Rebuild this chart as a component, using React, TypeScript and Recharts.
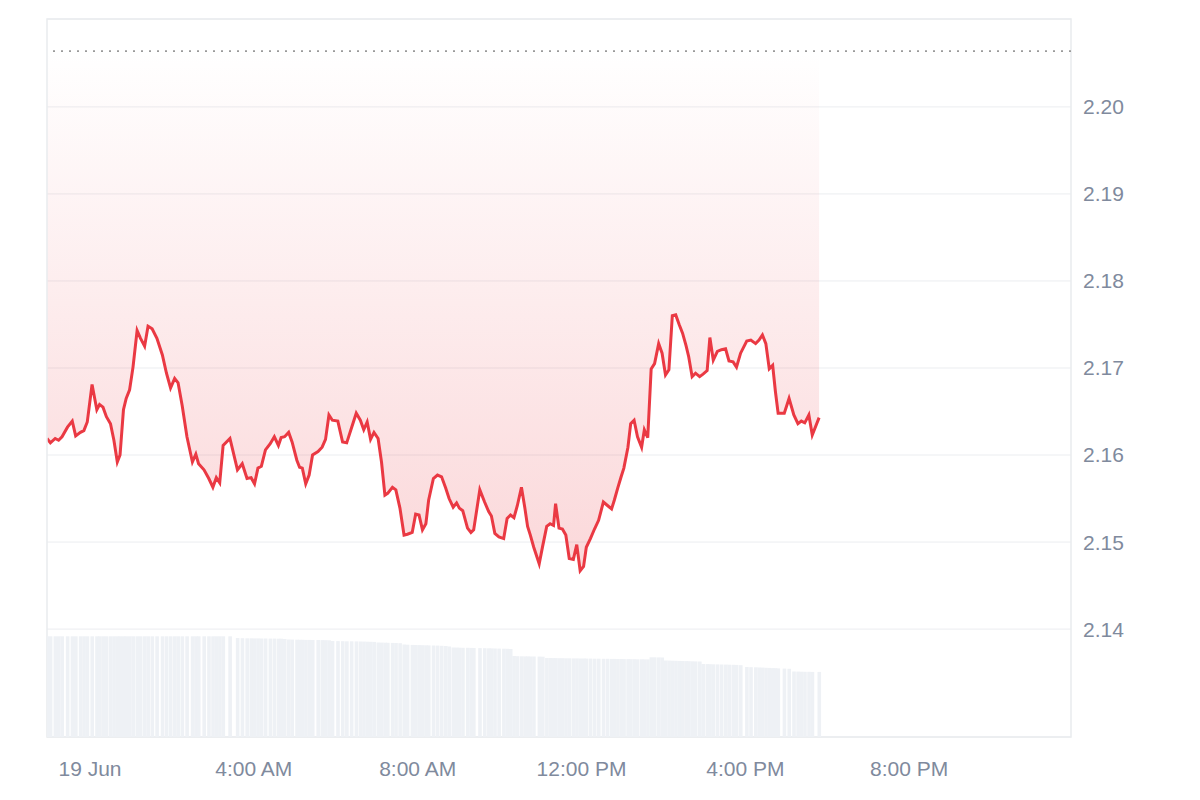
import {
  Area,
  Bar,
  CartesianGrid,
  ComposedChart,
  ReferenceArea,
  ReferenceLine,
  XAxis,
  YAxis
} from "recharts";

// minutes from 00:00 on 19 Jun
const times = [
  -63, -58, -51, -46, -41, -33, -26, -21, -14, -9,
  -4, 3, 10, 14, 19, 24, 30, 35, 40, 44,
  49, 53, 58, 63, 69, 74, 80, 85, 91, 98,
  106, 112, 118, 124, 129, 135, 142, 150, 155, 159,
  167, 174, 180, 185, 190, 195, 205, 216, 223, 230,
  236, 241, 246, 251, 257, 264, 270, 276, 280, 285,
  291, 296, 303, 307, 311, 316, 321, 326, 334, 340,
  345, 350, 355, 363, 370, 376, 383, 390, 396, 401,
  406, 411, 416, 422, 427, 432, 436, 443, 448, 454,
  460, 465, 472, 477, 482, 487, 492, 496, 503, 509,
  515, 521, 526, 532, 537, 541, 546, 553, 558, 562,
  571, 578, 584, 588, 593, 599, 606, 611, 616, 621,
  626, 632, 637, 641, 645, 650, 658, 663, 669, 674,
  679, 682, 687, 692, 697, 702, 708, 713, 718, 723,
  727, 733, 739, 745, 752, 758, 764, 768, 773, 778,
  782, 788, 792, 797, 802, 808, 812, 817, 822, 827,
  833, 838, 843, 848, 853, 858, 863, 868, 873, 877,
  882, 887, 893, 898, 904, 908, 913, 919, 925, 931,
  936, 942, 947, 953, 962, 968, 975, 980, 985, 990,
  995, 1000, 1004, 1008, 1017, 1024, 1031, 1037, 1042, 1047,
  1053, 1058, 1068
];

const prices = [
  2.1619, 2.1614, 2.1619, 2.1617, 2.1621, 2.1632, 2.1639, 2.1622, 2.1626, 2.1628,
  2.1638, 2.1681, 2.1652, 2.1658, 2.1655, 2.1644, 2.1636, 2.1617, 2.1592, 2.16,
  2.1652, 2.1665, 2.1675, 2.1701, 2.1743, 2.1734, 2.1725, 2.1748, 2.1745, 2.1734,
  2.1715, 2.1694, 2.1677, 2.1688, 2.1683, 2.1657, 2.1621, 2.1592, 2.1601, 2.159,
  2.1583, 2.1573, 2.1563, 2.1574, 2.1568, 2.1611, 2.1619, 2.1583, 2.159, 2.1573,
  2.1574, 2.1567, 2.1585, 2.1587, 2.1606, 2.1613, 2.1621, 2.1611, 2.162, 2.1621,
  2.1626, 2.1615, 2.1594, 2.1586, 2.1585, 2.1567, 2.1577, 2.16, 2.1604, 2.1609,
  2.1618, 2.1646, 2.164, 2.1639, 2.1615, 2.1614, 2.1631, 2.1648, 2.164, 2.1629,
  2.1638, 2.1618, 2.1626, 2.1619, 2.1592, 2.1554, 2.1556, 2.1563, 2.156, 2.1539,
  2.1508, 2.1509, 2.1511, 2.1532, 2.1531, 2.1514, 2.1521, 2.1548, 2.1573, 2.1577,
  2.1575, 2.1562, 2.155, 2.154, 2.1545, 2.1539, 2.1536, 2.1516, 2.1511, 2.1514,
  2.156, 2.1546, 2.1535, 2.153, 2.151, 2.1506, 2.1504, 2.1527, 2.1531, 2.1528,
  2.1542, 2.1563, 2.1539, 2.1518, 2.1508, 2.1494, 2.1475, 2.1495, 2.1518, 2.1521,
  2.1519, 2.1544, 2.1516, 2.1515, 2.1508, 2.1481, 2.148, 2.1497, 2.1467, 2.1472,
  2.1494, 2.1504, 2.1515, 2.1525, 2.1546, 2.1542, 2.1538, 2.1548, 2.1562, 2.1575,
  2.1585, 2.1609, 2.1636, 2.164, 2.1621, 2.1609, 2.1629, 2.162, 2.1699, 2.1705,
  2.1728, 2.1717, 2.1692, 2.1698, 2.176, 2.1761, 2.175, 2.174, 2.1726, 2.1713,
  2.169, 2.1694, 2.169, 2.1693, 2.1697, 2.1735, 2.1709, 2.1719, 2.1721, 2.1722,
  2.1708, 2.1707, 2.1701, 2.1717, 2.1731, 2.1732, 2.1728, 2.1732, 2.1738, 2.1728,
  2.1699, 2.1703, 2.1673, 2.1648, 2.1648, 2.1665, 2.1646, 2.1636, 2.1639, 2.1637,
  2.1646, 2.1623, 2.1643
];

// volume, millions
const volumes = [
  1007, 1007, 1007, 1007, 1007, 1007, 1007, 1007, 1007, 1007,
  1007, 1007, 1007, 1007, 1007, 1007, 1007, 1007, 1007, 1007,
  1007, 1007, 1007, 1007, 1007, 1007, 1007, 1007, 1007, 1007,
  1007, 1007, 1007, 1007, 1007, 1007, 1007, 1007, 1007, 1007,
  1007, 1007, 1007, 1007, 1007, 1007, 1007, 990, 988, 987,
  987, 986, 986, 985, 985, 984, 984, 983, 983, 980,
  975, 974, 973, 972, 972, 971, 971, 970, 970, 969,
  968, 967, 960, 959, 958, 957, 957, 956, 955, 954,
  953, 952, 951, 945, 944, 943, 942, 941, 940, 938,
  925, 923, 921, 920, 919, 918, 917, 916, 915, 914,
  912, 910, 905, 895, 894, 893, 892, 892, 891, 890,
  889, 888, 887, 886, 885, 884, 883, 882, 880, 810,
  808, 807, 806, 806, 805, 805, 804, 803, 790, 790,
  789, 789, 788, 788, 787, 787, 786, 786, 785, 785,
  784, 784, 783, 783, 782, 782, 781, 781, 780, 780,
  779, 779, 778, 778, 777, 777, 776, 776, 797, 797,
  796, 795, 765, 764, 763, 762, 761, 760, 759, 758,
  757, 756, 755, 730, 729, 728, 727, 726, 725, 724,
  723, 722, 721, 718, 700, 698, 697, 695, 694, 692,
  691, 689, 688, 686, 684, 682, 655, 654, 653, 652,
  652, 651, 651
];

const xTicks = [0, 240, 480, 720, 960, 1200];
const xTickLabels = ["19 Jun", "4:00 AM", "8:00 AM", "12:00 PM", "4:00 PM", "8:00 PM"];
const yTicks = [2.14, 2.15, 2.16, 2.17, 2.18, 2.19, 2.2];
const refPrice = 2.2064;
const priceDomain = [2.1276, 2.2101];
const timeDomain = [-63, 1437];
const volumeDomain = [0, 7180];

const data = times.map((t, i) => ({ t, price: prices[i], volume: volumes[i] }));

const tickStyle = { fontSize: 21, fill: "#808a9d", fontFamily: "'Liberation Sans', Arial, sans-serif" };

// the numeric axis squeezes bars to the smallest gap, so draw each one a fixed width
const VolumeBar = (props: any) => {
  const { x, y, width, height } = props;
  if (!height || height <= 0) return null;
  return <rect x={x + width / 2 - 1.8} y={y} width={3.6} height={height} fill="#eef1f5" />;
};

export default function App() {
  return (
    <div style={{ position: "absolute", left: 0, top: 0, width: 1200, height: 800, background: "#fff" }}>
      <ComposedChart width={1200} height={800} data={data} margin={{ top: 19, right: 49, bottom: 13, left: 47 }}>
        <defs>
          <linearGradient id="priceFill" x1="0" y1="0" x2="0" y2="1">
            <stop offset="0%" stopColor="#ea3943" stopOpacity={0} />
            <stop offset="100%" stopColor="#ea3943" stopOpacity={0.33} />
          </linearGradient>
        </defs>
        <CartesianGrid vertical={false} stroke="#ebedf0" yAxisId="price" />
        <XAxis
          dataKey="t"
          type="number"
          domain={timeDomain}
          ticks={xTicks}
          allowDataOverflow
          tickFormatter={(v: number) => xTickLabels[xTicks.indexOf(v)] ?? ""}
          tickLine={false}
          axisLine={false}
          tickSize={8}
          tickMargin={16}
          height={50}
          tick={tickStyle}
        />
        <YAxis
          yAxisId="price"
          orientation="right"
          domain={priceDomain}
          ticks={yTicks}
          allowDataOverflow
          tickFormatter={(v: number) => v.toFixed(2)}
          tickLine={false}
          axisLine={false}
          tickSize={6}
          tickMargin={6}
          width={80}
          tick={{ ...tickStyle, textAnchor: "start" }}
        />
        <YAxis yAxisId="vol" hide domain={volumeDomain} />
        <Bar yAxisId="vol" dataKey="volume" fill="#eef1f5" shape={VolumeBar} isAnimationActive={false} />
        <Area
          yAxisId="price"
          type="linear"
          dataKey="price"
          baseValue={refPrice}
          stroke="#ea3943"
          strokeWidth={3}
          fill="url(#priceFill)"
          dot={false}
          activeDot={false}
          isAnimationActive={false}
        />
        <ReferenceLine yAxisId="price" y={refPrice} stroke="#9a9a9a" strokeWidth={1.8} strokeDasharray="2 6" />
        <ReferenceArea
          yAxisId="price"
          x1={timeDomain[0]}
          x2={timeDomain[1]}
          y1={priceDomain[0]}
          y2={priceDomain[1]}
          fill="none"
          fillOpacity={0}
          stroke="#e9ebee"
          strokeWidth={1.5}
        />
      </ComposedChart>
    </div>
  );
}
